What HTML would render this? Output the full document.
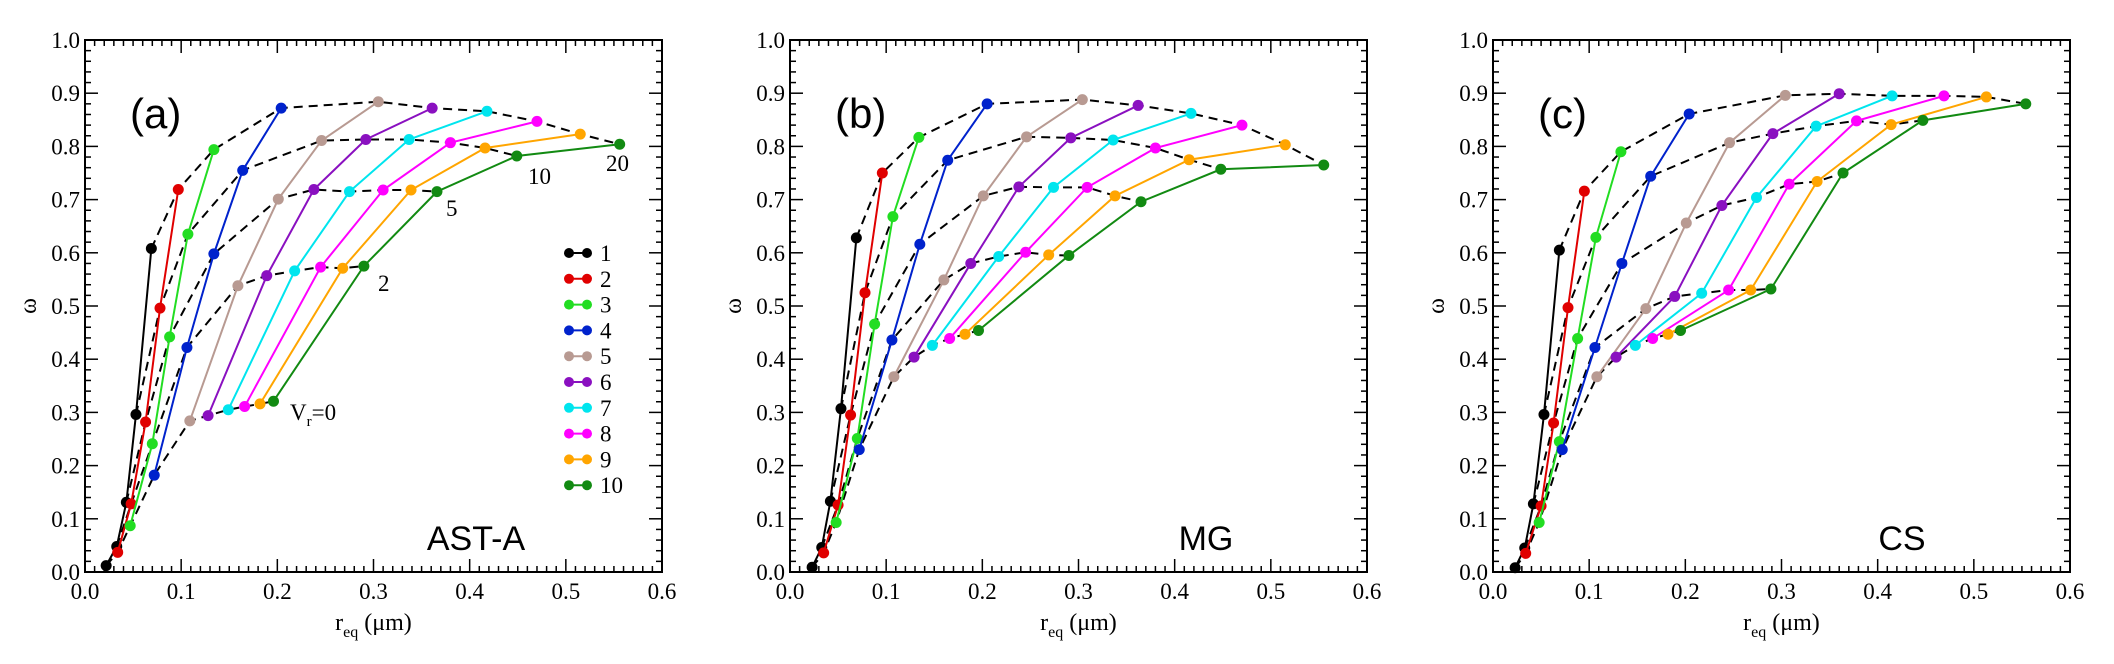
<!DOCTYPE html>
<html><head><meta charset="utf-8">
<style>
html,body{margin:0;padding:0;background:#fff;}
svg{display:block;}
text{font-family:"Liberation Serif",serif;}
.sans{font-family:"Liberation Sans",sans-serif;}
</style></head>
<body>
<svg id="chart" width="2114" height="664" viewBox="0 0 2114 664" xmlns="http://www.w3.org/2000/svg"></svg>
<script>
const xTicks = ["0.0","0.1","0.2","0.3","0.4","0.5","0.6"];
const yTicks = ["0.0","0.1","0.2","0.3","0.4","0.5","0.6","0.7","0.8","0.9","1.0"];
const seriesNames = ["1","2","3","4","5","6","7","8","9","10"];
const vrLabels = ["Vr=0","2","5","10","20"];
// panel a (AST-A): x values and y values per series
const aX = [[0.022,0.033,0.043,0.053,0.069],[0.034,0.048,0.063,0.078,0.097],[0.047,0.070,0.088,0.107,0.134],[0.072,0.106,0.134,0.164,0.204],[0.109,0.159,0.201,0.246,0.305],[0.128,0.189,0.238,0.292,0.361],[0.149,0.218,0.275,0.337,0.418],[0.166,0.245,0.310,0.380,0.470],[0.182,0.268,0.339,0.416,0.515],[0.196,0.290,0.366,0.449,0.556]];
const aY = [[0.012,0.048,0.131,0.296,0.608],[0.037,0.128,0.282,0.496,0.719],[0.087,0.241,0.442,0.635,0.794],[0.182,0.422,0.598,0.755,0.872],[0.284,0.538,0.701,0.811,0.884],[0.294,0.557,0.719,0.813,0.872],[0.305,0.566,0.715,0.813,0.866],[0.311,0.573,0.718,0.807,0.847],[0.316,0.571,0.718,0.797,0.823],[0.321,0.575,0.715,0.782,0.804]];
// panel b (MG)
const bX = [[0.023,0.033,0.042,0.053,0.069],[0.035,0.050,0.063,0.078,0.096],[0.048,0.070,0.088,0.107,0.134],[0.072,0.106,0.135,0.164,0.205],[0.108,0.160,0.201,0.246,0.304],[0.129,0.188,0.238,0.292,0.362],[0.148,0.217,0.274,0.336,0.417],[0.166,0.245,0.309,0.380,0.470],[0.182,0.269,0.338,0.415,0.515],[0.196,0.290,0.365,0.448,0.555]];
const bY = [[0.009,0.046,0.133,0.307,0.628],[0.036,0.126,0.295,0.525,0.750],[0.093,0.251,0.466,0.668,0.817],[0.230,0.436,0.616,0.774,0.880],[0.367,0.549,0.707,0.818,0.888],[0.404,0.580,0.724,0.816,0.877],[0.426,0.593,0.723,0.812,0.862],[0.439,0.601,0.723,0.797,0.840],[0.447,0.596,0.707,0.775,0.803],[0.454,0.595,0.696,0.757,0.765]];
// panel c (CS)
const cX = [[0.023,0.033,0.042,0.053,0.069],[0.034,0.050,0.063,0.078,0.095],[0.048,0.069,0.088,0.107,0.133],[0.072,0.106,0.134,0.164,0.204],[0.108,0.159,0.201,0.246,0.304],[0.128,0.189,0.238,0.291,0.360],[0.148,0.217,0.274,0.336,0.415],[0.166,0.245,0.308,0.378,0.469],[0.182,0.268,0.337,0.414,0.513],[0.195,0.289,0.364,0.447,0.554]];
const cY = [[0.008,0.045,0.128,0.296,0.605],[0.035,0.124,0.280,0.497,0.716],[0.093,0.245,0.439,0.629,0.790],[0.230,0.422,0.580,0.744,0.861],[0.367,0.495,0.656,0.807,0.896],[0.404,0.518,0.689,0.824,0.899],[0.426,0.524,0.704,0.838,0.895],[0.439,0.530,0.729,0.848,0.895],[0.447,0.530,0.734,0.841,0.893],[0.454,0.532,0.750,0.849,0.880]];

const colors = ["#000000","#e00000","#22dd22","#0022cc","#b89a92","#8a10c0","#00e5ee","#ff00ff","#ffa500","#128a12"];
const NS="http://www.w3.org/2000/svg";
const svg=document.getElementById('chart');
function mk(tag,attrs,parent){const e=document.createElementNS(NS,tag);for(const k in attrs)e.setAttribute(k,attrs[k]);(parent||svg).appendChild(e);return e;}

const panels=[
 {left:85,label:"(a)",name:"AST-A",X:aX,Y:aY,tag:"a",nameX:476,legend:true,ann:true},
 {left:790,label:"(b)",name:"MG",X:bX,Y:bY,tag:"b",nameX:1206,legend:false,ann:false},
 {left:1493,label:"(c)",name:"CS",X:cX,Y:cY,tag:"c",nameX:1902,legend:false,ann:false}
];
const TOP=40,W=577,H=532;

panels.forEach(p=>{
  const g=mk('g',{});
  
  
  const sx=v=>p.left+v/0.6*W;
  const sy=v=>TOP+H-v*H;
  // ticks
  const tg=mk('g',{stroke:'#000','stroke-width':1.5},g);
  
  
  for(let i=0;i<=60;i++){const x=sx(i/100);const L=(i%10==0)?13:6;
    mk('line',{x1:x,y1:TOP+H,x2:x,y2:TOP+H-L},tg);mk('line',{x1:x,y1:TOP,x2:x,y2:TOP+L},tg);}
  for(let i=0;i<=50;i++){const y=sy(i/50);const L=(i%5==0)?13:6;
    mk('line',{x1:p.left,y1:y,x2:p.left+L,y2:y},tg);mk('line',{x1:p.left+W,y1:y,x2:p.left+W-L,y2:y},tg);}
  const fr=mk('rect',{x:p.left,y:TOP,width:W,height:H,fill:'none',stroke:'#000','stroke-width':2},g);
  
  
  xTicks.forEach((t,i)=>{const e=mk('text',{x:sx(i*0.1),y:TOP+H+27,'font-size':23,'text-anchor':'middle'},g);e.textContent=t;
    });
  yTicks.forEach((t,i)=>{const e=mk('text',{x:p.left-5,y:sy(i*0.1)+8,'font-size':23,'text-anchor':'end'},g);e.textContent=t;
    });
  const yl=mk('text',{x:0,y:0,'font-size':24,'text-anchor':'middle',transform:`translate(${p.left-49},${sy(0.5)}) rotate(-90)`},g);
  yl.textContent='ω';
  const xl=mk('text',{x:p.left+W/2,y:TOP+H+58,'font-size':24,'text-anchor':'middle'},g);
  
  xl.innerHTML='r<tspan font-size="16" dy="7">eq</tspan><tspan dy="-7"> (μm)</tspan>';
  // dashed Vr lines
  for(let k=0;k<5;k++){
    const pts=p.X.map((xs,s)=>sx(xs[k])+','+sy(p.Y[s][k])).join(' ');
    const d=mk('polyline',{points:pts,fill:'none',stroke:'#000','stroke-width':2,'stroke-dasharray':'9,6'},g);
    
  }
  // series
  p.X.forEach((xs,s)=>{
    const sg=mk('g',{},g);
    
    const pts=xs.map((x,i)=>sx(x)+','+sy(p.Y[s][i])).join(' ');
    mk('polyline',{points:pts,fill:'none',stroke:colors[s],'stroke-width':2},sg);
    xs.forEach((x,i)=>{const c=mk('circle',{cx:sx(x),cy:sy(p.Y[s][i]),r:5.5,fill:colors[s]},sg);
      });
  });
  const lb=mk('text',{x:p.left+45,y:TOP+88,'font-size':42,class:'sans'},g);lb.textContent=p.label;
  
  const nm=mk('text',{x:p.nameX,y:TOP+H-22,'font-size':34,class:'sans','text-anchor':'middle'},g);nm.textContent=p.name;
  
  if(p.legend){
    const lg=mk('g',{},g);
    seriesNames.forEach((n,i)=>{const y=253+i*25.8;
      const eg=mk('g',{},lg);
      mk('line',{x1:569,y1:y,x2:587,y2:y,stroke:colors[i],'stroke-width':2},eg);
      mk('circle',{cx:569,cy:y,r:5,fill:colors[i]},eg);mk('circle',{cx:587,cy:y,r:5,fill:colors[i]},eg);
      const t=mk('text',{x:600,y:y+8,'font-size':23},eg);t.textContent=n;});
  }
  if(p.ann){
    const an=[[290,420,'V<tspan font-size="15" dy="6">r</tspan><tspan dy="-6">=0</tspan>'],[378,291,'2'],[446,216,'5'],[528,184,'10'],[606,171,'20']];
    an.forEach(a=>{const t=mk('text',{x:a[0],y:a[1],'font-size':23},g);t.innerHTML=a[2];
      });
  }
});
</script>
</body></html>
